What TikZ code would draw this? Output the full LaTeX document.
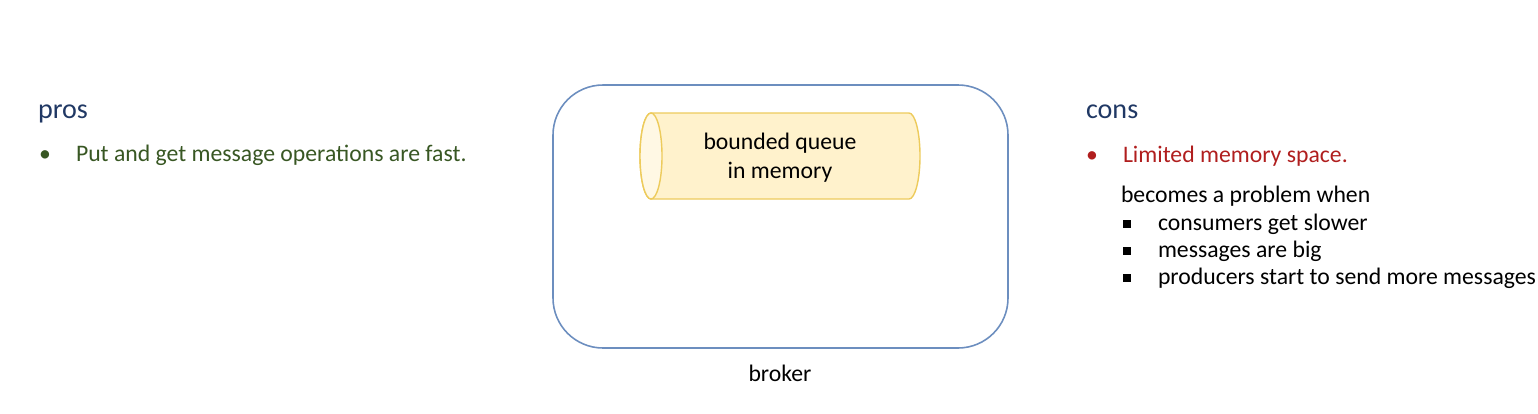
\documentclass[tikz,border=0pt]{standalone}
\usepackage{fontspec}
\setmainfont{Carlito}
\definecolor{headblue}{HTML}{203864}
\definecolor{prosgreen}{HTML}{385723}
\definecolor{consred}{HTML}{B01E1E}
\definecolor{brokerblue}{HTML}{6C8EBF}
\definecolor{queuefill}{HTML}{FFF2CC}
\definecolor{queueend}{HTML}{FFF8E4}
\definecolor{queueline}{HTML}{EDCB5C}
\begin{document}
\begin{tikzpicture}[x=0.02cm, y=-0.02cm,
	every node/.style={inner sep=0pt, outer sep=0pt},
	body/.style={font=\fontsize{13.5}{16}\selectfont, anchor=base west},
	head/.style={font=\fontsize{16}{19}\selectfont, text=headblue, anchor=base west},
	sqbullet/.style={fill=black, minimum size=7.5*0.02cm}]
	\useasboundingbox (0,0) rectangle (1538,413);
	% broker with the queue
	\draw[brokerblue, line width=0.9pt, rounded corners=1cm] (553,85) rectangle (1008,348);
	\filldraw[fill=queuefill, draw=queueline, line width=0.8pt] (651,113) -- (909,113)
		arc[start angle=90, end angle=-90, x radius=11, y radius=-43] -- (651,199)
		arc[start angle=270, end angle=90, x radius=11, y radius=-43] -- cycle;
	\filldraw[fill=queueend, draw=queueline, line width=0.8pt] (651,156) ellipse[x radius=11, y radius=43];
	\node[body, anchor=base, align=center] (queue) at (780,178) {bounded queue\\in memory};
	\node[body, anchor=base] (broker) at (780,381) {broker};
	% pros
	\node[head] (pros) at (38,118) {pros};
	\node[body, text=prosgreen] (prosdot) at (39,161) {•};
	\node[body, text=prosgreen] (fast) at (76,161) {Put and get message operations are fast.};
	% cons
	\node[head] (cons) at (1086,118) {cons};
	\node[body, text=consred] (consdot) at (1086,162) {•};
	\node[body, text=consred] (limited) at (1123,162) {Limited memory space.};
	\node[body] (when) at (1121,202) {becomes a problem when};
	\foreach \y/\txt [count=\i] in {230/consumers get slower, 257/messages are big, 284/producers start to send more messages}{
		\node[sqbullet] (sq\i) at (1127,\y-6) {};
		\node[body] (item\i) at (1158,\y) {\txt};
	}
\end{tikzpicture}
\end{document}
